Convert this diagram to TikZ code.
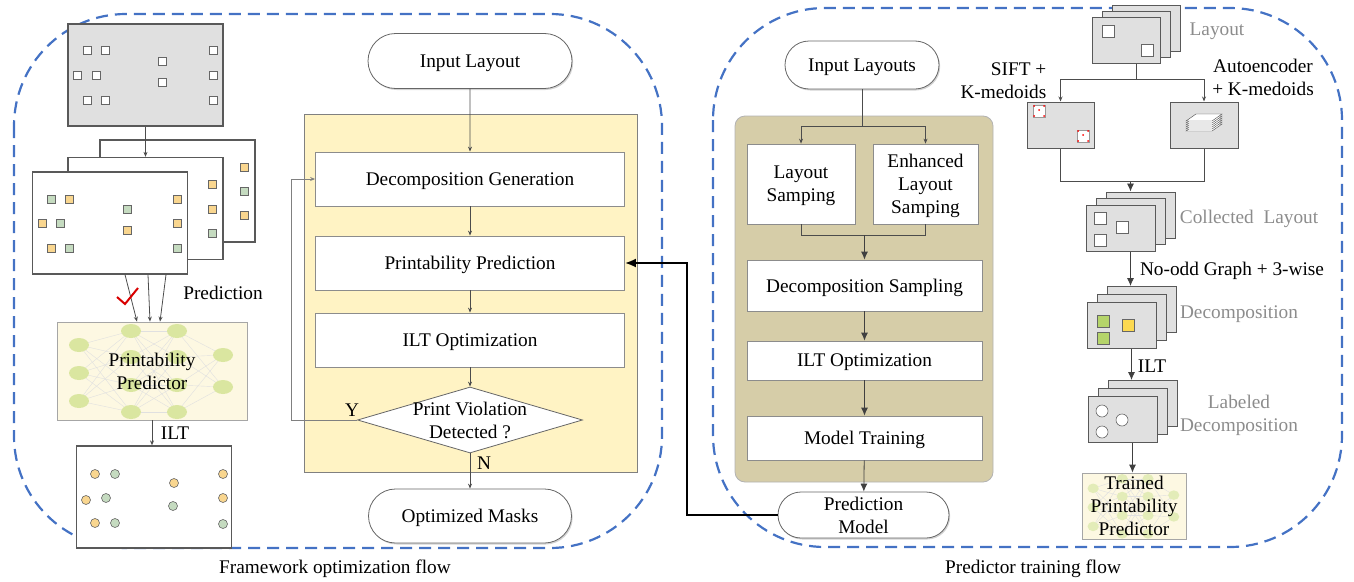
\documentclass[tikz,border=0pt]{standalone}
\usepackage{fontspec}
\setmainfont{Liberation Serif}
\usetikzlibrary{arrows.meta, shapes.geometric, shapes.misc, positioning, calc, shadows}

\definecolor{flowblue}{RGB}{68,114,196}
\definecolor{boxyellow}{RGB}{255,243,196}
\definecolor{trainTan}{RGB}{214,205,168}
\definecolor{predfill}{RGB}{253,248,226}
\definecolor{nngreen}{RGB}{218,230,160}
\definecolor{layoutgray}{RGB}{224,224,224}
\definecolor{sqgreen}{RGB}{197,219,192}
\definecolor{sqorange}{RGB}{249,214,143}
\definecolor{decgreen}{RGB}{181,212,106}
\definecolor{decyellow}{RGB}{252,217,81}
\definecolor{labelgray}{RGB}{140,140,140}

\tikzset{
	flowbox/.style={rectangle, draw=black!45, fill=white, inner sep=0pt, align=center, minimum width=309pt, minimum height=54pt},
	trainstep/.style={flowbox, minimum width=235pt},
	terminal/.style={rounded rectangle, draw=black!60, fill=white, align=center, inner sep=0pt, drop shadow={shadow xshift=1.2pt, shadow yshift=-1.5pt, opacity=0.35}},
	decision/.style={diamond, draw=black!60, fill=white, inner sep=0pt, minimum width=225pt, minimum height=66pt},
	optpanel/.style={rectangle, draw=black!50, fill=boxyellow, inner sep=0pt, minimum width=333pt, minimum height=358pt},
	trainpanel/.style={rectangle, draw=black!30, fill=trainTan, rounded corners=10pt, inner sep=0pt, minimum width=258pt, minimum height=366pt},
	predbox/.style={rectangle, draw=black!35, fill=predfill, inner sep=0pt, minimum width=190pt, minimum height=98pt},
	thumb/.style={rectangle, draw=black!65, line width=1pt, fill=layoutgray, inner sep=0pt, minimum width=68pt, minimum height=46pt},
	bigthumb/.style={thumb, line width=1.3pt, fill=white, minimum width=155pt, minimum height=102pt},
	cell/.style={draw=black!60, fill=white, line width=0.6pt},
	graylabel/.style={text=labelgray, align=center},
	nnedge/.style={draw=black!12, line width=0.4pt},
	line/.style={draw=black!70, -{Stealth[length=5pt, width=4pt]}},
	bigtip/.style={draw=black!75, -{Latex[length=8pt, width=7pt]}},
	thickline/.style={draw=black, line width=2pt, -{Latex[length=11pt, width=9pt]}},
	flowdash/.style={draw=flowblue, line width=2.2pt, dash pattern=on 12pt off 7pt, rounded corners=112pt}
}

% neural net drawn around (0,0)
\newcommand{\drawnet}[1]{%
	\foreach \ya in {-26,2,30}
	\foreach \yb in {-40,-14,14,41}
	\draw[nnedge] (-73,\ya) -- (-21,\yb);
	\foreach \ya in {-40,-14,14,41}
	\foreach \yb in {-40,-14,14,41}
	\draw[nnedge] (-21,\ya) -- (25,\yb);
	\foreach \ya in {-40,-14,14,41}
	\foreach \yb in {-16,16}
	\draw[nnedge] (25,\ya) -- (71,\yb);
	\foreach \x/\y in {-73/-26,-73/2,-73/30,-21/-40,-21/-14,-21/14,-21/41,25/-40,25/-14,25/14,25/41,71/-16,71/16}
	\fill[#1] (\x,\y) ellipse (10 and 7);
}

\begin{document}
\begin{tikzpicture}[x=1pt, y=-1pt, line width=0.8pt, every node/.style={text depth=0pt},
	font=\fontsize{19.3pt}{23pt}\selectfont]
	\useasboundingbox (0,0) rectangle (1354,581);
	
	% Flow frames
	\draw[flowdash] (14,14) rectangle (662,548);
	\draw[flowdash] (713,8) rectangle (1342,547);
	\node (framelab) at (335,567) {Framework optimization flow};
	\node (trainlab) at (1033,567) {Predictor training flow};
	
	% Input layout and its decompositions
	\node[bigthumb, fill=layoutgray] (toplay) at (145.5,75) {};
	\foreach \x/\y in {87/50,105/50,162/61,213/50,77/75,96/75,162/82,213/75,87/100,105/100,213/100}
	\draw[cell] (\x-4,\y-4) rectangle (\x+4,\y+4);
	
	\node[bigthumb] (lback) at (177.5,191) {};
	\foreach \x/\y/\c in {244/167/sqorange,244/191/sqgreen,244/215/sqorange}
	\draw[draw=black!60, fill=\c, line width=0.6pt] (\x-4,\y-4) rectangle (\x+4,\y+4);
	\node[bigthumb] (lmid) at (145.5,208.5) {};
	\foreach \x/\y/\c in {212/184/sqorange,212/209/sqorange,212/233/sqgreen}
	\draw[draw=black!60, fill=\c, line width=0.6pt] (\x-4,\y-4) rectangle (\x+4,\y+4);
	\node[bigthumb] (lfront) at (110,223) {};
	\foreach \x/\y/\c in {51/199/sqgreen,69/199/sqorange,127/209/sqgreen,177/199/sqorange,
		42/223/sqorange,60/223/sqgreen,127/230/sqorange,177/223/sqorange,
		51/248/sqorange,69/248/sqgreen,177/248/sqgreen}
	\draw[draw=black!60, fill=\c, line width=0.6pt] (\x-4,\y-4) rectangle (\x+4,\y+4);
	\draw[line] (toplay) -- (lmid);
	
	% Predictor
	\node[predbox] (predictor) at (152,371) {};
	\begin{scope}[shift={(152,371)}]
		\drawnet{nngreen}
	\end{scope}
	\node[align=center] (predtxt) at (predictor) {Printability\\Predictor};
	\foreach \a/\b in {15/-15,38/-2,56/8}
	\draw[line] ($(lfront.south)+(\a,0)$) -- ($(predictor.north)+(\b,0)$);
	\node (predlab) at (223,293) {Prediction};
	\draw[red!85!black, line width=2pt] (117,297) -- (125,304) -- (138,288);
	
	% Output masks
	\node[bigthumb] (outlay) at (154,497) {};
	\foreach \x/\y/\c in {95/474/sqorange,115/474/sqgreen,174/483/sqorange,223/474/sqorange,
		86/500/sqorange,106/498/sqgreen,173/506/sqgreen,223/498/sqorange,
		95/523/sqorange,115/523/sqgreen,223/524/sqgreen}
	\draw[draw=black!60, fill=\c, line width=0.6pt] (\x,\y) circle (4.5);
	\draw[line] (predictor.south) -- (predictor.south |- outlay.north);
	\node (iltlab) at (175,433) {ILT};
	
	% Optimization flow
	\node[terminal, minimum width=204pt, minimum height=55pt] (inlay) at (470,61) {Input Layout};
	\node[optpanel] (optbox) at (470.5,293) {};
	\node[flowbox] (decgen) at (470,179) {Decomposition Generation};
	\node[flowbox] (predict) at (470,263) {Printability Prediction};
	\node[flowbox] (iltopt) at (470,340) {ILT Optimization};
	\node[decision] (check) at (470,420) {};
	\node[align=center] (checktxt) at (470,420) {Print Violation\\Detected ?};
	\node[terminal, minimum width=203pt, minimum height=54pt] (masks) at (470,516) {Optimized Masks};
	\node (ylab) at (352,410) {Y};
	\node (nlab) at (484,463) {N};
	
	\draw[line] (inlay) -- (decgen);
	\draw[line] (decgen) -- (predict);
	\draw[line] (predict) -- (iltopt);
	\draw[line] (iltopt) -- (check);
	\draw[line] (check) -- (masks);
	\draw[line, draw=black!50] (check.west) -- ++(-66,0) |- (decgen.west);
	
	% Training flow
	\node[terminal, minimum width=154pt, minimum height=48pt] (inlays) at (862,65) {Input Layouts};
	\node[trainpanel] (trainbox) at (864,299) {};
	\node[flowbox, minimum width=108pt, minimum height=80pt] (lsamp) at (801,184) {Layout\\Samping};
	\node[flowbox, minimum width=105pt, minimum height=80pt] (elsamp) at (925.5,184) {Enhanced\\Layout\\Samping};
	\node[trainstep, minimum height=51pt] (decsamp) at (864.5,285.5) {Decomposition Sampling};
	\node[trainstep, minimum height=39pt] (iltrain) at (864.5,360.5) {ILT Optimization};
	\node[trainstep, minimum height=44pt] (mtrain) at (864.5,438) {Model Training};
	\node[terminal, minimum width=171pt, minimum height=46pt] (predmodel) at (863.5,515) {Prediction\\Model};
	
	\draw[draw=black!70] (inlays.south) -- ++(0,37) coordinate (rsplit);
	\draw[line] (rsplit) -| (lsamp.north);
	\draw[line] (rsplit) -| (elsamp.north);
	\draw[draw=black!70] (lsamp.south) -- ++(0,11) coordinate (rjoin) -| (elsamp.south);
	\draw[bigtip] (rjoin -| decsamp.north) -- (decsamp.north);
	\draw[bigtip] (decsamp) -- (iltrain);
	\draw[bigtip] (iltrain) -- (mtrain);
	\draw[bigtip] (mtrain) -- (predmodel);
	\draw[thickline] (predmodel.west) -- ++(-91,0) |- (predict.east);
	
	% Layout clustering
	\foreach \k in {2,1,0}
	\node[thumb] (lay-\k) at (1126+10*\k,40-5.75*\k) {};
	\draw[cell] (1102,25) rectangle (1114,37);
	\draw[cell] (1141,44) rectangle (1153,56);
	\node[graylabel] (laylab) at (1217,29) {Layout};
	
	\node[thumb, minimum width=67pt] (sift) at (1060.5,125) {};
	\foreach \x/\y in {1039/111,1083/136} {
		\draw[cell, draw=black!40] (\x-6,\y-6) rectangle (\x+6,\y+6);
		\foreach \dx/\dy in {-5/-5,5/-5,5/5,-5/5,0/-1}
		\fill[red] (\x+\dx,\y+\dy) circle (1);
	}
	\node[thumb, minimum width=68pt] (ae) at (1204,125) {};
	\foreach \k in {0,...,5}
	\draw[black!70, fill=white, line width=0.4pt] (1186,131-2*\k) -- (1212,131-2*\k) -- (1222,124-2*\k) -- (1196,124-2*\k) -- cycle;
	\node[align=right, anchor=east] (siftlab) at (1050,80.5) {SIFT +\\K-medoids};
	\node[align=center] (aelab) at (1263,77.5) {Autoencoder\\+ K-medoids};
	
	\draw[draw=black!70] (lay-1.south |- lay-0.south) -- ++(0,16) coordinate (lsplit);
	\draw[line] (lsplit) -| (sift.north);
	\draw[line] (lsplit) -| (ae.north);
	
	% Collected layout
	\foreach \k in {2,1,0}
	\node[thumb, minimum width=69pt] (coll-\k) at (1120.5+10*\k,228-6.5*\k) {};
	\foreach \x/\y in {1100/218,1122/227,1100/240}
	\draw[cell] (\x-6,\y-6) rectangle (\x+6,\y+6);
	\node[graylabel] (colllab) at (1249,217) {Collected\ \ Layout};
	\draw[draw=black!70] (sift.south) -- ++(0,33) coordinate (sjoin) -| (ae.south);
	\draw[bigtip] (sjoin -| coll-1.north) -- (coll-2.north -| coll-1.north);
	
	% Decomposition
	\foreach \k in {2,1,0}
	\node[thumb, minimum width=69pt] (dec-\k) at (1121.5+10*\k,325.5-8*\k) {};
	\foreach \x/\y/\c in {1103/321/decgreen,1128/325/decyellow,1103/338/decgreen}
	\draw[draw=black!60, fill=\c, line width=0.6pt] (\x-6,\y-6) rectangle (\x+6,\y+6);
	\node[graylabel] (declab) at (1239,312) {Decomposition};
	\draw[bigtip] (coll-1.south |- coll-0.south) -- (dec-2.north -| coll-1.south);
	\node (graphlab) at (1232,269) {No-odd Graph + 3-wise};
	
	% Labeled decomposition
	\foreach \k in {2,1,0}
	\node[thumb, minimum width=69pt] (lab-\k) at (1122.5+10*\k,419.5-8*\k) {};
	\foreach \x/\y in {1102/411,1122/420,1102/432}
	\draw[cell] (\x,\y) circle (6);
	\node[graylabel] (lablab) at (1239,413) {Labeled\\Decomposition};
	\draw[bigtip] (dec-1.south |- dec-0.south) -- (lab-2.north -| dec-1.south);
	\node (iltlab2) at (1152,366) {ILT};
	
	% Trained predictor
	\node[predbox, minimum width=104pt, minimum height=66pt] (trained) at (1134,506) {};
	\begin{scope}[shift={(1134,506)}, xscale=0.56, yscale=0.68]
		\drawnet{nngreen!75}
	\end{scope}
	\node[align=center] (trainedtxt) at (trained) {Trained\\Printability\\Predictor};
	\draw[bigtip] (lab-1.south |- lab-0.south) -- (trained.north -| lab-1.south);
\end{tikzpicture}
\end{document}
